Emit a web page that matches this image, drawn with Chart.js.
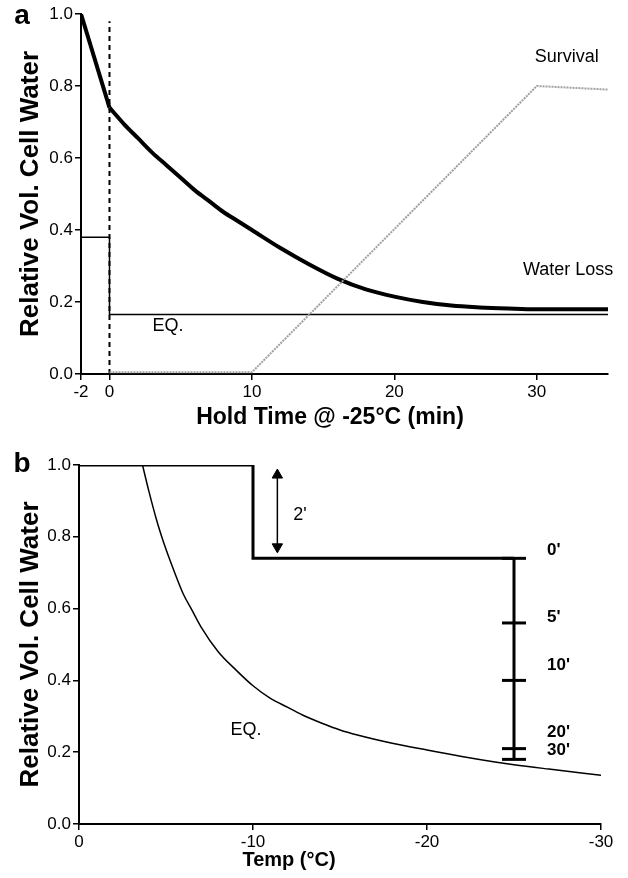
<!DOCTYPE html>
<html>
<head>
<meta charset="utf-8">
<title>Cell water during hold</title>
<script src="https://cdn.jsdelivr.net/npm/chart.js@4.4.1/dist/chart.umd.min.js"></script>
<style>
    html, body { margin: 0; padding: 0; background: #fff; }
    #wrap { position: relative; width: 628px; height: 878px; }
    #wrap canvas { position: absolute; left: 0; }
    #chartA { top: 0; }
    #chartB { top: 440px; }
</style>
</head>
<body>
<div id="wrap">
    <canvas id="chartA" width="628" height="440"></canvas>
    <canvas id="chartB" width="628" height="438"></canvas>
</div>
<script>
const FONT = '"Liberation Sans", Arial, Helvetica, sans-serif';

// ---- panel a: hold time at -25 C ----
const coolTime = [-2, 0];
const coolLoss = [1.0, 0.74];
const holdTime = [0, 1, 2, 3, 4, 5, 6, 7, 8, 9, 10, 12, 14, 16, 18, 20, 22, 24, 26, 28, 30, 35];
const waterLoss = [0.74, 0.695, 0.655, 0.615, 0.58, 0.545, 0.51, 0.48, 0.45, 0.425, 0.40,
    0.35, 0.305, 0.265, 0.235, 0.215, 0.20, 0.19, 0.185, 0.182, 0.18, 0.18];
const eqTime = [-2, 0, 0, 35];
const eqLevel = [0.38, 0.38, 0.165, 0.165];
const survTime = [0, 10, 30, 35];
const survival = [0.005, 0.005, 0.80, 0.79];
const holdStartTime = [0, 0];
const holdStartLevel = [0, 0.98];
const holdTicks = [-2, 0, 10, 20, 30];
const volTicks = [0, 0.2, 0.4, 0.6, 0.8, 1.0];

// ---- panel b: temperature path ----
const pathTemp = [0, -10, -10, -25];
const pathVol = [1.0, 1.0, 0.74, 0.74];
const holdBarTemp = [-25, -25];
const holdBarVol = [0.74, 0.18];
const minuteVol = [0.74, 0.56, 0.40, 0.21, 0.18];
const minuteLabels = ["0'", "5'", "10'", "20'", "30'"];
const eqTemp = [-3.65, -4, -4.5, -5, -5.5, -6, -6.5, -7, -8, -9, -10, -11, -12, -13, -14, -15, -16, -18, -20, -22, -24, -25, -27, -30];
const eqVol = [1.0, 0.93, 0.84, 0.765, 0.70, 0.64, 0.595, 0.55, 0.48, 0.43, 0.385, 0.35, 0.325,
    0.30, 0.28, 0.262, 0.248, 0.225, 0.206, 0.188, 0.172, 0.165, 0.153, 0.136];
const arrowTemp = [-11.4, -11.4];
const arrowVol = [0.972, 0.772];
const tempTicks = [0, -10, -20, -30];

const toPoints = (xs, ys) => xs.map((x, i) => ({ x: x, y: ys[i] }));

/**
 * Draws free text: in data units, or in canvas pixels when px is set
 */
const textLabels = {
    id: 'textLabels',
    afterDraw(chart, args, opts) {
        const ctx = chart.ctx;
        (opts.items || []).forEach(item => {
            const x = item.px ? item.x : chart.scales.x.getPixelForValue(item.x);
            const y = item.px ? item.y : chart.scales.y.getPixelForValue(item.y);
            ctx.save();
            ctx.font = `${item.bold ? 'bold ' : ''}${item.size}px ${FONT}`;
            ctx.fillStyle = '#000';
            ctx.textAlign = item.align || 'center';
            ctx.textBaseline = 'middle';
            ctx.fillText(item.text, x, y);
            ctx.restore();
        });
    }
};

function lineSet(data, width, extra) {
    return Object.assign({
        data: data,
        showLine: true,
        borderColor: '#000',
        backgroundColor: '#000',
        borderWidth: width,
        pointRadius: 0,
        fill: false
    }, extra || {});
}

function axes(xCfg, yWidth, xHeight, yTitle) {
    const tickFont = { size: 17, family: FONT };
    return {
        x: Object.assign({
            type: 'linear',
            afterFit: s => { s.height = xHeight; },
            grid: { drawOnChartArea: false, drawTicks: true, tickLength: 6, color: '#000', lineWidth: 1.5 },
            border: { display: true, color: '#000', width: 2 },
            ticks: { color: '#000', font: tickFont, padding: 2, maxRotation: 0, autoSkip: false, callback: v => String(v) }
        }, xCfg),
        y: {
            type: 'linear',
            min: 0,
            max: 1,
            afterBuildTicks: s => { s.ticks = volTicks.map(v => ({ value: v })); },
            afterFit: s => { s.width = yWidth; },
            grid: { drawOnChartArea: false, drawTicks: true, tickLength: 6, color: '#000', lineWidth: 1.5 },
            border: { display: true, color: '#000', width: 2 },
            ticks: { color: '#000', font: tickFont, padding: 2, autoSkip: false, callback: v => v.toFixed(1) },
            title: {
                display: true,
                text: yTitle,
                color: '#000',
                font: { size: 26, weight: 'bold', family: FONT },
                padding: { top: 15, bottom: 0 }
            }
        }
    };
}

const baseOptions = {
    responsive: false,
    animation: false,
    devicePixelRatio: 1,
    plugins: { legend: { display: false }, tooltip: { enabled: false } }
};

// Panel a
new Chart(document.getElementById('chartA'), {
    type: 'scatter',
    data: {
        datasets: [
            lineSet(toPoints(survTime, survival), 2, { borderColor: '#a0a0a0', borderDash: [2, 1] }),
            lineSet(toPoints(holdStartTime, holdStartLevel), 2, { borderDash: [5, 4] }),
            lineSet(toPoints(eqTime, eqLevel), 1.5),
            lineSet(toPoints(coolTime, coolLoss), 4),
            lineSet(toPoints(holdTime, waterLoss), 4, { cubicInterpolationMode: 'monotone' })
        ]
    },
    options: Object.assign({}, baseOptions, {
        layout: { padding: { top: 14, right: 20, left: 0, bottom: 0 } },
        scales: axes({
            min: -2,
            max: 35,
            afterBuildTicks: s => { s.ticks = holdTicks.map(v => ({ value: v })); }
        }, 81, 66, 'Relative Vol. Cell Water'),
        plugins: Object.assign({}, baseOptions.plugins, {
            textLabels: {
                items: [
                    { text: 'a', x: 22, y: 16, px: true, bold: true, size: 28 },
                    { text: 'Survival', x: 32.1, y: 0.88, size: 18 },
                    { text: 'Water Loss', x: 32.2, y: 0.29, size: 18 },
                    { text: 'EQ.', x: 4.1, y: 0.133, size: 18 },
                    { text: 'Hold Time @ -25°C (min)', x: 330, y: 418, px: true, bold: true, size: 23 }
                ]
            }
        })
    }),
    plugins: [textLabels]
});

// Panel b
const minuteText = minuteLabels.map((t, i) => ({
    text: t, x: -26.9, y: [0.763, 0.577, 0.443, 0.256, 0.206][i], align: 'left', bold: true, size: 17
}));

new Chart(document.getElementById('chartB'), {
    type: 'scatter',
    data: {
        datasets: [
            lineSet(toPoints(eqTemp, eqVol), 1.5, { cubicInterpolationMode: 'monotone' }),
            lineSet(toPoints(pathTemp, pathVol), 3),
            lineSet(toPoints(holdBarTemp, holdBarVol), 3),
            lineSet(minuteVol.map(v => ({ x: -25, y: v })), 3, {
                showLine: false, pointStyle: 'line', pointRadius: 12, pointBorderWidth: 3
            }),
            lineSet(toPoints(arrowTemp, arrowVol), 1.5, {
                pointStyle: 'triangle', pointRadius: 6, pointRotation: [0, 180], pointBorderWidth: 1
            })
        ]
    },
    options: Object.assign({}, baseOptions, {
        layout: { padding: { top: 25, right: 27, left: 0, bottom: 0 } },
        scales: axes({
            min: -30,
            max: 0,
            reverse: true,
            afterBuildTicks: s => { s.ticks = tempTicks.map(v => ({ value: v })); }
        }, 79, 54, 'Relative Vol. Cell Water'),
        plugins: Object.assign({}, baseOptions.plugins, {
            textLabels: {
                items: [
                    { text: 'b', x: 22, y: 24, px: true, bold: true, size: 28 },
                    { text: "2'", x: -12.7, y: 0.86, size: 18 },
                    { text: 'EQ.', x: -9.6, y: 0.262, size: 18 },
                    { text: 'Temp (°C)', x: 289, y: 420, px: true, bold: true, size: 20 }
                ].concat(minuteText)
            }
        })
    }),
    plugins: [textLabels]
});
</script>
</body>
</html>
